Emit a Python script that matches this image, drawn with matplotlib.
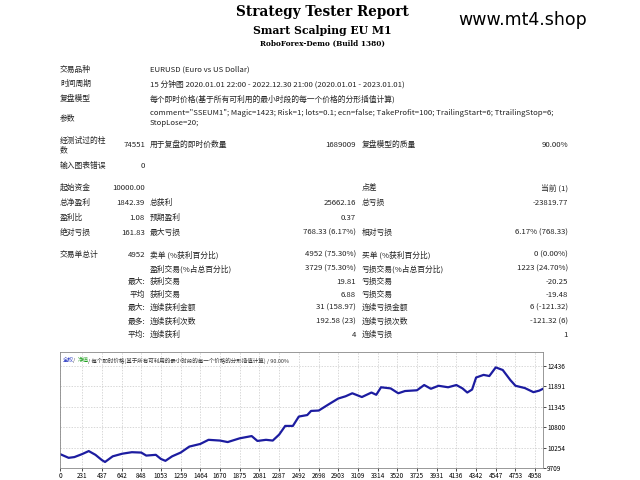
import matplotlib.pyplot as plt

plt.rcParams["font.family"] = ["Noto Sans CJK SC", "DejaVu Sans"]

trade_index = [0, 90, 150, 231, 300, 370, 437, 470, 550, 650, 750, 848, 900, 1000,
               1053, 1100, 1170, 1259, 1350, 1464, 1550, 1670, 1750, 1875, 2000,
               2060, 2150, 2220, 2287, 2350, 2430, 2492, 2580, 2620, 2700, 2800,
               2903, 2980, 3050, 3150, 3250, 3300, 3350, 3450, 3530, 3600, 3725,
               3800, 3870, 3950, 4050, 4136, 4200, 4250, 4300, 4342, 4420, 4480,
               4547, 4620, 4700, 4753, 4850, 4940, 5000, 5040]
balance = [10080, 9980, 10000, 10080, 10160, 10060, 9920, 9870, 10020, 10090, 10130,
           10120, 10040, 10060, 9950, 9900, 10020, 10120, 10280, 10350, 10460, 10440,
           10400, 10500, 10560, 10430, 10460, 10440, 10600, 10830, 10830, 11080,
           11120, 11230, 11240, 11400, 11560, 11620, 11700, 11600, 11720, 11660,
           11860, 11830, 11700, 11760, 11780, 11920, 11820, 11900, 11860, 11920,
           11830, 11720, 11800, 12120, 12190, 12160, 12390, 12320, 12050, 11900,
           11840, 11730, 11770, 11820]
x_ticks = [0, 231, 437, 642, 848, 1053, 1259, 1464, 1670, 1875, 2081, 2287, 2492,
           2698, 2903, 3109, 3314, 3520, 3725, 3931, 4136, 4342, 4547, 4753, 4958]
y_ticks = [9709, 10254, 10800, 11345, 11891, 12436]

# (y, col1 label, col1 value, col2 label, col2 value, col3 label, col3 value)
rows = [
    (166, "输入图表错误", "0", "", "", "", ""),
    (188, "起始资金", "10000.00", "", "", "点差", "当前 (1)"),
    (203, "总净盈利", "1842.39", "总获利", "25662.16", "总亏损", "-23819.77"),
    (218, "盈利比", "1.08", "预期盈利", "0.37", "", ""),
    (233, "绝对亏损", "161.83", "最大亏损", "768.33 (6.17%)", "相对亏损", "6.17% (768.33)"),
    (255, "交易单总计", "4952", "卖单 (%获利百分比)", "4952 (75.30%)", "买单 (%获利百分比)", "0 (0.00%)"),
    (269, "", "", "盈利交易(%占总百分比)", "3729 (75.30%)", "亏损交易(%占总百分比)", "1223 (24.70%)"),
    (282, "", "最大:", "获利交易", "19.81", "亏损交易", "-20.25"),
    (295, "", "平均", "获利交易", "6.88", "亏损交易", "-19.48"),
    (308, "", "最大:", "连续获利金额", "31 (158.97)", "连续亏损金额", "6 (-121.32)"),
    (322, "", "最多:", "连续获利次数", "192.58 (23)", "连续亏损次数", "-121.32 (6)"),
    (335, "", "平均:", "连续获利", "4", "连续亏损", "1"),
]

W, H = 640, 480
fig = plt.figure(figsize=(6.4, 4.8), dpi=100)
fs = 5.6


def put(x, y, s, ha="left", **kw):
    fig.text(x / W, 1 - y / H, s, ha=ha, va="center", fontsize=kw.pop("size", fs),
             color=kw.pop("color", "#222222"), **kw)


put(322, 12, "Strategy Tester Report", ha="center", size=9.8, weight="bold",
    family="DejaVu Serif", color="black")
put(322, 30, "Smart Scalping EU M1", ha="center", size=7.8, weight="bold",
    family="DejaVu Serif", color="black")
put(322, 44, "RoboForex-Demo (Build 1380)", ha="center", size=5.3, weight="bold",
    family="DejaVu Serif", color="black")
put(458, 20, "www.mt4.shop", size=12.5, family="DejaVu Sans", color="black")

put(60, 70, "交易品种")
put(150, 70, "EURUSD (Euro vs US Dollar)")
put(60, 84, "时间周期")
put(150, 84, "15 分钟图 2020.01.01 22:00 - 2022.12.30 21:00 (2020.01.01 - 2023.01.01)")
put(60, 99, "复盘模型")
put(150, 99, "每个即时价格(基于所有可利用的最小时段的每一个价格的分形插值计算)")
put(60, 118, "参数")
put(150, 113, 'comment="SSEUM1"; Magic=1423; Risk=1; lots=0.1; ecn=false; '
    'TakeProfit=100; TrailingStart=6; TtrailingStop=6;')
put(150, 123, "StopLose=20;")
put(60, 141, "经测试过的柱")
put(60, 150, "数")
put(145, 145, "74551", ha="right")
put(150, 145, "用于复盘的即时价数量")
put(356, 145, "1689009", ha="right")
put(362, 145, "复盘模型的质量")
put(568, 145, "90.00%", ha="right")

for y, l1, v1, l2, v2, l3, v3 in rows:
    put(60, y, l1)
    put(145, y, v1, ha="right")
    put(150, y, l2)
    put(356, y, v2, ha="right")
    put(362, y, l3)
    put(568, y, v3, ha="right")

ax = fig.add_axes([60 / W, 1 - 468 / H, 483 / W, 116 / H])
ax.plot(trade_index, balance, color="#1c1ca0", linewidth=1.6)
ax.set_xlim(0, 5040)
ax.set_ylim(9709, 12800)
ax.set_xticks(x_ticks)
ax.set_xticklabels([str(t) for t in x_ticks], fontsize=4.6)
ax.set_yticks(y_ticks)
ax.set_yticklabels([str(t) for t in y_ticks], fontsize=4.6)
ax.yaxis.tick_right()
ax.tick_params(length=2, pad=1, width=0.5)
ax.grid(True, color="#c8c8c8", linestyle=(0, (2, 2)), linewidth=0.5)
for s in ax.spines.values():
    s.set_color("#888888")
    s.set_linewidth(0.6)

ax.text(0.005, 0.95, "全权", color="#2030c0", fontsize=4, transform=ax.transAxes, va="top")
ax.text(0.027, 0.95, "/", color="#444444", fontsize=4, transform=ax.transAxes, va="top")
ax.text(0.036, 0.95, "净值", color="#20a020", fontsize=4, transform=ax.transAxes, va="top")
ax.text(0.058, 0.95, "/ 每个即时价格(基于所有可利用的最小时段的每一个价格的分形插值计算) / 90.00%",
        color="#333333", fontsize=4, transform=ax.transAxes, va="top")

fig.savefig("out.png", dpi=100)
